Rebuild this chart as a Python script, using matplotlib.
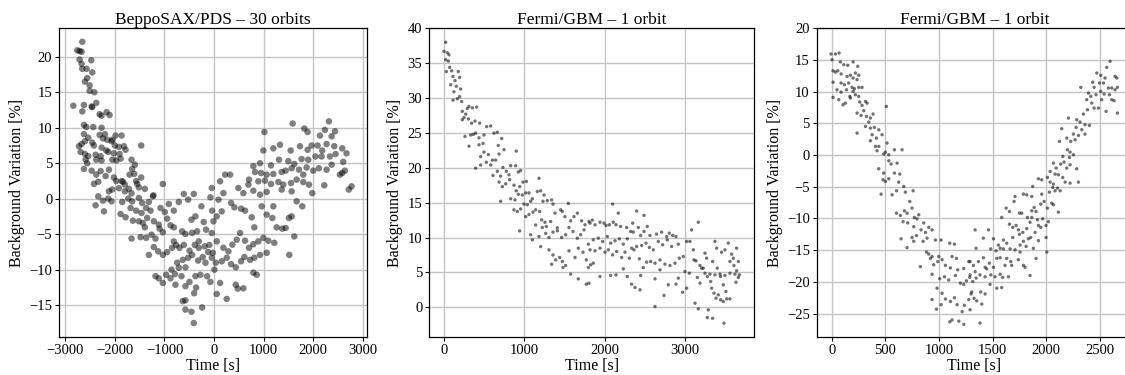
import numpy as np
import matplotlib
matplotlib.use("Agg")
import matplotlib.pyplot as plt

plt.rcParams['font.family'] = ['Liberation Serif', 'DejaVu Serif']
plt.rcParams['axes.unicode_minus'] = True

titles = ["BeppoSAX/PDS \u2013 30 orbits", "Fermi/GBM \u2013 1 orbit", "Fermi/GBM \u2013 1 orbit"]
xlabel = "Time [s]"
ylabel = "Background Variation [%]"

# (time [s], background variation [%])
sax_points = [
(-2657,22.1),(-2758,20.9),(-2711,20.8),(-2671,20.7),(-2711,19.6),(-2476,19.5),(-2671,19.0),
(-2657,18.3),(-2570,18.3),(-2456,17.8),(-2557,17.0),(-2604,16.5),(-2510,15.97),(-2510,15.2),(-2416,15.0),
(-2838,13.1),(-2624,13.2),(-2469,13.0),(-2375,13.5),(-2456,12.9),(-2657,12.3),
(-2308,11.9),(-2268,11.7),(-2167,12.2),(-2107,11.8),(-2624,10.4),(-2577,10.1),(-2436,10.1),(-2268,10.0),
(-2624,9.1),(-2308,9.0),(-2201,9.1),(-1986,8.9),(-1865,8.9),(-2067,8.1),(-2053,8.3),
(-2537,8.6),(-2604,8.1),(-2456,7.9),(-2422,7.5),(-2724,7.4),(-2671,7.7),(-2241,8.5),(-2154,8.3),
(-2268,7.2),(-2174,6.8),(-1999,7.5),(-1919,7.3),(-1818,7.4),(-1785,6.9),(-1469,7.5),
(-2691,6.6),(-2604,6.3),(-2537,6.0),(-2389,6.2),(-2288,6.0),(-2134,6.6),(-2020,6.4),(-1905,6.3),(-1885,5.65),
(-2590,5.5),(-2557,5.0),(-2375,5.5),(-2268,5.4),(-2053,5.5),(-1972,5.4),(-1664,5.5),(-1597,4.8),(-1651,4.2),
(-2624,4.2),(-2469,3.96),(-2375,3.4),(-2288,3.9),(-2187,3.2),(-2120,4.1),(-2422,2.1),(-2335,2.4),
(-2020,3.0),(-1972,2.5),(-1865,2.5),(-1798,2.0),(-1704,3.4),(-1610,3.5),(-1570,2.5),(-1469,3.0),(-1550,2.1),
(-2120,1.05),(-2053,1.3),(-1919,1.5),(-1838,2.4),(-1798,1.05),(-1718,1.4),(-1664,0.77),(-1516,1.6),(-1396,1.4),
(-2335,0.35),(-2241,-0.26),(-2134,0.02),(-2067,-0.36),(-1852,-0.45),(-1731,0.02),(-1651,-0.36),(-1516,0.11),
(-1449,-0.59),(-1315,-0.45),(-1234,0.35),(-1221,0.49),(-2389,-0.92),(-2221,-1.77),
(-1885,-2.14),(-1785,-2.6),(-1684,-1.3),(-1570,-1.67),(-1463,-2.0),(-1369,-1.3),(-1281,-1.67),(-1080,-1.3),(-1033,2.08),
(-1637,-3.08),(-1516,-3.17),(-1436,-3.41),(-1396,-4.02),(-1349,-2.7),(-1214,-3.17),(-1114,-3.64),(-993,-1.86),(-946,-2.8),
(-912,-0.73),(-812,-1.67),(-879,-3.74),(-812,-4.02),(-711,-0.45),(-610,0.68),(-523,-0.12),(-409,0.68),
(-1664,-5.6),(-1483,-5.4),(-1369,-5.5),(-1261,-5.05),(-1181,-5.6),(-1100,-4.2),(-1033,-4.7),
(-1315,-7.9),(-1214,-6.8),(-1127,-7.4),(-1033,-7.9),(-946,-7.5),(-845,-6.9),(-765,-6.5),(-812,-6.0),
(-644,-4.58),(-577,-4.96),(-443,-4.8),(-342,-4.58),(-255,-1.06),(-376,-2.47),(-456,-2.94),(-308,-5.99),(-208,-3.27),
(-161,-4.35),(-74,0.2),(-40,-1.67),
(-1181,-10.9),(-1114,-11.2),(-1033,-11.85),(-966,-10.7),(-879,-11.2),(-791,-10.6),(-711,-9.7),(-657,-10.9),(-577,-9.65),
(-778,-12.1),(-577,-12.3),(-496,-11.7),(-402,-13.3),(-362,-12.5),(-376,-10.9),(-275,-10.7),(-174,-9.0),(-74,-11.7),
(-859,-9.98),(-744,-9.0),(-631,-8.6),(-523,-8.3),(-443,-7.9),(-322,-8.7),(-228,-8.2),(-120,-7.5),(-26,-7.6),(-141,-10.9),
(-631,-14.4),(-577,-14.3),(-577,-15.6),(-456,-15.9),(-409,-17.5),(-241,-15.3),
(-698,-6.9),(-610,-6.5),(-496,-7.3),(-389,-6.5),(-308,-6.9),(-188,-6.7),(-94,-6.5),
(1584,10.6),(1819,9.9),(1886,9.4),(2316,10.9),(2235,9.7),(2437,9.5),(2370,8.8),
(1014,9.4),(994,6.8),(1195,7.1),(1329,7.6),(1544,6.8),(1732,7.4),(1886,6.9),(1967,7.5),(2088,7.5),(2135,8.9),
(2181,6.8),(2269,7.7),(2423,7.4),(2584,7.1),(2671,6.4),
(792,4.6),(927,5.0),(1148,4.7),(1309,5.5),(1497,5.3),(1618,4.9),(1765,5.6),(1899,5.5),(2047,5.96),(2168,5.96),
(2336,5.96),(2450,6.3),(2604,5.2),
(826,3.77),(947,3.63),(1061,3.4),(1195,3.49),(1363,3.77),(1443,3.96),(1564,4.3),(1712,4.1),(1799,3.4),(1866,4.4),
(2000,3.96),(2114,4.3),(2269,4.1),(2370,4.8),(2537,3.4),(2584,3.63),(2638,3.96),
(705,2.7),(893,2.46),(1027,2.55),(1148,2.08),(1296,2.36),(1396,1.99),(1551,2.22),(1665,2.7),(1799,2.36),(1913,1.99),
(1980,0.8),(2222,1.9),(2718,1.3),(2772,1.75),
(490,1.52),(591,0.8),(692,1.99),(792,1.14),(927,0.58),(1061,0.96),(1195,-1.06),(1363,1.29),(1564,1.05),(1665,-0.36),(1779,-1.06),
(343,-0.59),(410,-1.2),(544,-1.39),(625,-1.67),(759,-2.61),(812,-4.02),(960,-1.06),(1061,-2.23),(1175,-2.7),(1262,-4.02),
(1376,-4.2),(1443,-4.11),(1510,-2.7),(1564,-2.47),(1618,-5.3),(1517,-7.9),
(-46,1.52),(121,2.46),(222,3.4),(323,3.4),(188,0.8),(88,-0.12),(155,-1.77),(-13,-3.17),(54,-2.47),
(-46,-4.82),(54,-5.99),(188,-6.9),(289,-7.4),(370,-6.46),(457,-5.76),(524,-4.82),(625,-5.9),(705,-6.9),(792,-6.4),
(893,-5.99),(994,-5.5),(1094,-5.9),(1215,-6.2),
(-46,-8.3),(34,-9.0),(155,-8.8),(255,-8.3),(343,-9.2),(437,-9.65),(544,-8.8),(611,-8.2),(725,-8.6),(812,-8.3),(927,-7.9),(1061,-7.6),
(7,-9.98),(121,-11.85),(54,-13.4),(255,-14.1),(437,-12.1),(477,-12.65),(591,-12.6),(792,-10.4),(859,-10.7),
]

gbm_a_points = [
(21,38.0),(0,36.7),(42,36.5),(62,36.2),(21,35.5),(54,35.3),
(29,33.8),(71,34.4),(96,33.9),(112,33.1),(137,32.5),(178,33.8),(195,32.96),(83,31.9),(153,31.7),(207,31.3),(124,30.9),
(112,29.7),(166,29.9),(195,30.2),(220,29.5),
(228,28.1),(270,27.7),(290,28.5),(311,28.8),(353,28.6),(407,28.7),(249,27.2),(303,27.0),(344,26.4),(386,26.7),(444,26.4),(228,26.9),
(261,24.5),(332,24.7),(365,24.8),(394,24.97),(436,24.3),(498,24.7),(531,25.9),(581,26.0),(622,24.97),(664,25.1),(718,24.2),
(311,23.1),(436,23.3),(486,23.5),
(394,19.95),(456,21.6),(498,22.25),(552,21.9),(602,21.1),(643,21.1),(685,21.97),(676,23.2),(747,22.6),(900,22.4),
(456,20.4),(527,20.8),(581,20.4),
(610,18.9),(664,19.5),(705,18.8),(734,20.05),(776,19.5),(809,19.0),(830,20.3),(892,20.3),(925,19.4),(954,19.6),
(685,17.95),(726,17.3),(768,17.7),(817,18.3),(871,17.5),(900,16.7),(942,17.3),(983,17.95),(1025,18.04),(705,15.2),
(830,15.56),(884,15.4),(925,16.2),(975,16.1),(1017,16.4),(1058,16.4),(1100,15.56),(1183,18.5),
(871,13.98),(913,13.74),(954,14.1),(996,14.8),(1037,14.7),(1079,15.2),(1162,16.6),(1203,16.7),(942,10.96),
(1017,13.0),(1058,13.3),(1108,13.64),(1141,13.98),(1191,13.74),(1232,15.2),(1286,15.3),(1340,15.4),(1357,14.8),(1245,16.1),
(1079,10.4),(1100,9.67),(1141,11.8),(1183,10.15),(1216,12.54),(1257,12.2),(1274,11.59),(1328,12.3),(1382,13.5),(1411,11.4),
(1452,13.98),(1473,13.74),(1506,13.0),(1548,14.9),(1577,12.4),(1618,13.0),(1660,13.5),(1713,12.4),(1755,11.83),(1805,12.3),(1846,12.5),
(1224,11.44),(1266,10.6),(1307,10.01),(1357,10.78),(1411,10.97),(1465,10.01),(1515,10.4),(1556,11.44),(1606,10.87),(1660,9.91),
(1701,10.4),(1743,11.1),(1797,9.05),
(1203,8.7),(1307,8.24),(1357,7.5),(1390,6.8),(1440,7.14),(1473,6.57),(1515,5.99),(1556,8.1),(1631,7.14),(1672,8.48),
(1730,7.9),(1772,6.8),(1797,5.7),(1826,6.09),(1340,6.18),(1481,5.7),(1577,4.75),(1672,4.08),(1772,3.32),(1805,3.46),
(2100,14.8),(2170,13.5),(2398,13.8),(2490,13.17),
(1818,12.07),(1880,11.83),(1942,12.2),(1992,12.07),(2017,11.73),(2058,11.83),(2108,12.2),(2141,11.83),(2199,11.59),(2274,11.44),
(2324,10.87),(2357,10.78),(2349,12.07),(2419,11.44),(2448,10.3),(2490,10.87),(2531,11.59),(2564,10.3),(2647,10.49),(2710,10.78),
(2772,10.15),(2805,10.63),(2847,10.3),(2888,10.15),
(1859,9.67),(1921,9.91),(1975,9.44),(2033,10.15),(2075,9.2),(2129,9.53),(2183,9.82),(2232,9.05),(2282,9.82),(2336,8.48),
(2398,8.72),(2461,8.86),(2515,9.2),(2556,8.58),(2606,8.24),(2668,9.44),(2722,8.96),(2780,9.67),(2834,8.72),(2917,9.05),
(1818,8.24),(1880,8.1),(1942,8.48),(2004,7.9),(2046,8.24),(2100,7.52),(2150,8.0),(2212,7.14),(2253,7.9),(2307,7.04),
(2365,8.24),(2432,6.95),(2481,5.7),(2523,6.47),(2573,6.57),(2627,6.33),(2689,6.8),(2751,6.18),(2813,5.99),(2876,6.33),
(2929,7.04),(2979,7.28),(3021,9.44),(3062,9.44),(3083,11.1),(3166,12.2),(3104,8.24),
(1859,6.33),(1942,4.41),(2075,4.56),(2141,4.65),(2232,5.51),(2282,4.41),(2336,3.32),(2378,2.84),(2440,2.5),(2448,4.56),
(2627,4.08),(2689,5.37),(2739,1.69),(2792,3.22),(2888,3.32),(2917,4.18),(2971,2.16),(3000,5.13),
(2627,0.11),(3021,2.74),(3054,4.89),(3112,6.8),(3137,6.66),(3187,5.99),(3249,7.76),(3228,5.61),(3154,4.27),(3187,3.46),
(3278,4.41),(3320,3.7),(3332,2.74),(3361,2.02),(3386,1.31),(3415,1.78),(3444,1.07),(3477,0.83),(3519,1.21),(3560,1.21),
(3125,0.59),(3166,-0.22),(3290,-0.37),(3278,-1.47),(3344,-1.57),(3485,-2.28),
(3249,4.89),(3311,4.75),(3373,4.65),(3436,4.75),(3498,4.56),(3560,4.89),(3622,4.75),(3677,4.65),
(3373,9.44),(3394,8.48),(3456,7.9),(3498,8.24),(3539,9.2),(3581,7.62),(3602,7.04),(3643,8.48),(3664,6.57),(3560,6.57),
(3610,5.99),(3643,5.23),(3635,3.6),(3664,4.27),(3444,4.41),(3477,3.22),(3510,2.26),
(3344,6.57),(3402,5.61),(3270,7.04),(3208,5.61),
]

gbm_b_points = [
(-7,15.95),(34,15.95),(68,16.1),(3,15.05),(80,14.7),(112,14.26),(149,14.16),(199,14.7),(242,14.0),
(12,13.3),(34,13.1),(56,13.3),(87,12.8),(143,12.4),(174,12.6),(220,12.95),(199,12.16),(236,11.9),(251,12.6),
(12,11.5),(87,11.37),(118,11.1),(158,11.37),(189,10.68),(211,10.47),(251,10.68),(282,10.68),
(49,10.3),(87,9.94),(137,10.3),(168,9.26),(199,10.05),(220,9.52),(251,9.26),(314,8.47),(329,8.2),(282,7.84),(261,8.37),
(12,9.1),(65,8.74),(105,7.94),(127,8.2),(174,9.0),(236,6.63),(273,6.26),(298,7.0),(323,6.1),(360,5.84),(385,6.47),(345,5.21),
(314,4.52),(360,4.26),(397,4.37),(438,3.99),(376,3.21),(236,3.47),(360,2.26),(416,2.68),(469,3.21),
(407,1.37),(438,1.37),(422,0.68),(484,0.16),(500,0.47),(531,0.05),(515,1.9),(584,0.84),(655,0.84),(509,7.68),
(438,-2.16),(484,-2.84),(531,-0.9),(553,-1.42),(584,-2.84),(609,-1.27),(634,-3.0),(478,-3.9),(500,-4.16),(531,-3.74),
(562,-6.27),(603,-5.63),(624,-4.26),(671,-4.95),(686,-5.84),(758,-5.63),(460,-6.16),
(603,-9.16),(640,-9.53),(677,-8.79),(702,-9.16),(727,-7.32),(748,-8.37),(770,-9.84),(795,-10.06),(811,-9.42),(665,-10.5),
(708,-10.7),(764,-11.3),
(857,-10.7),(832,-11.8),(873,-12.2),(904,-11.4),(935,-11.8),(888,-13.1),(851,-13.6),(789,-12.7),(748,-13.0),(764,-13.6),
(646,-13.2),(702,-14.6),
(966,-13.4),(1019,-13.4),(882,-15.3),(904,-15.6),(935,-16.0),(997,-16.0),(826,-17.6),(988,-16.8),(950,-17.3),(919,-16.3),(1028,-16.5),
(1100,-13.9),(1143,-14.05),(1121,-16.0),(1162,-16.3),(1050,-19.2),(1090,-19.7),(1152,-19.0),(1199,-20.2),(1230,-20.4),(1255,-19.84),
(1277,-16.8),(1286,-19.3),(1106,-17.8),(1059,-17.4),(1174,-18.1),(1230,-17.9),
(935,-18.8),(1006,-19.5),(981,-21.0),(1028,-21.8),(935,-22.8),(975,-24.3),(1019,-23.6),(1059,-22.7),(1106,-23.1),(1143,-22.5),
(1168,-23.6),(1215,-24.7),(1236,-23.7),(1277,-22.8),(1298,-21.9),(1100,-26.3),(1121,-26.0),(1184,-26.2),(1230,-26.7),
(2594,14.79),(2563,13.84),(2470,12.95),(2507,12.58),(2547,12.16),(2640,12.42),(2656,12.16),(2432,11.5),(2494,11.37),(2532,11.37),
(2578,10.58),(2609,10.58),(2640,10.31),(2662,10.68),(2321,10.68),(2445,10.68),
(2392,9.79),(2414,9.26),(2463,9.52),(2507,10.05),(2538,9.63),(2588,9.52),(2609,8.74),(2631,8.58),(2662,6.63),(2557,6.89),
(2516,8.74),(2423,8.21),(2376,8.74),(2445,7.42),(2485,7.42),(2383,7.15),(2345,6.47),
(2206,5.84),(2283,5.58),(2314,5.21),(2360,4.79),(2401,4.68),(2277,4.37),(2330,4.0),(2252,3.31),(2299,3.1),(2360,3.31),
(2190,2.68),(2227,2.16),(2268,2.42),(2143,4.16),(2122,2.16),
(2196,0.84),(2221,0.47),(2215,-0.37),(2252,0.05),(2153,-0.21),(2134,-1.42),(2165,-1.1),(2221,-1.53),(2283,-2.16),(2190,-2.05),
(2066,-1.27),(2091,-2.05),(2035,-2.58),(2081,-3.0),(2112,-3.1),(2153,-3.53),(2221,-4.42),(2299,-4.26),(2175,-4.26),
(1926,-3.74),(1957,-3.9),(2010,-3.53),(2035,-4.26),(2066,-4.58),(2103,-5.21),(2128,-5.63),(2060,-5.1),(2081,-5.63),(2028,-5.84),
(1873,-4.95),(1786,-6.16),(1817,-6.27),(1864,-6.53),(1957,-6.16),(1979,-7.32),(2010,-8.37),(2050,-7.58),(2066,-7.84),(2112,-9.0),
(1948,-7.74),(1886,-8.26),(1904,-8.9),(1864,-8.79),
(1625,-8.37),(1656,-8.9),(1699,-7.32),(1708,-6.53),(1749,-9.16),(1771,-9.16),(1823,-9.84),(1864,-9.84),(1917,-10.2),(1966,-10.05),
(1997,-11.1),(2019,-10.5),(1926,-11.1),(1948,-11.4),(1848,-10.6),(1895,-12.2),
(1584,-9.84),(1656,-10.9),(1687,-11.4),(1718,-11.1),(1739,-11.8),(1780,-12.2),(1817,-11.6),(1854,-13.0),(1833,-13.2),(1786,-13.6),
(1811,-14.4),(1926,-13.5),(1997,-13.0),(2004,-15.3),(1879,-14.7),
(1507,-13.2),(1553,-14.2),(1600,-13.4),(1631,-13.9),(1662,-14.8),(1708,-14.95),(1755,-14.2),(1687,-13.0),(1749,-12.5),(1482,-14.8),
(1531,-15.1),(1569,-14.7),(1600,-14.8),
(1289,-16.8),(1320,-17.4),(1367,-16.8),(1413,-16.2),(1429,-17.7),(1469,-17.05),(1507,-17.7),(1538,-16.3),(1569,-16.2),(1615,-17.4),
(1631,-16.3),(1668,-16.8),(1677,-17.4),(1739,-16.5),(1786,-17.4),(1802,-17.7),(1848,-19.0),(1755,-15.3),(1904,-16.3),
(1289,-18.9),(1336,-18.4),(1382,-18.9),(1429,-19.2),(1482,-18.9),(1522,-19.2),(1569,-18.8),(1593,-19.3),(1646,-19.2),(1538,-21.0),
(1584,-20.9),(1475,-20.4),(1388,-21.6),(1429,-21.9),(1326,-22.6),(1351,-23.0),(1398,-23.5),(1289,-24.4),(1382,-26.5),
(1314,-19.95),(1345,-19.4),(1305,-21.6),(1444,-17.95),
(1336,-11.8),(1413,-13.1),(1460,-11.8),(1345,-14.7),
]

series = [np.array(sax_points), np.array(gbm_a_points), np.array(gbm_b_points)]
xticks = [[-3000, -2000, -1000, 0, 1000, 2000, 3000], [0, 1000, 2000, 3000], [0, 500, 1000, 1500, 2000, 2500]]
yticks = [[-15, -10, -5, 0, 5, 10, 15, 20], [0, 5, 10, 15, 20, 25, 30, 35, 40], [-25, -20, -15, -10, -5, 0, 5, 10, 15, 20]]
xlims = [(-3121, 3074), (-183, 3859), (-140, 2800)]
ylims = [(-19.46, 24.0), (-4.26, 40.0), (-28.7, 20.0)]
sizes = [22, 6, 6]
alphas = [0.5, 0.55, 0.55]

fig = plt.figure(figsize=(11.25, 3.75), dpi=100)
rects = [(0.0527, 0.1013, 0.2731, 0.8232),
         (0.3816, 0.1013, 0.2886, 0.8232),
         (0.7260, 0.1013, 0.2804, 0.8232)]

for i in range(3):
    ax = fig.add_axes(rects[i])
    d = series[i]
    ax.set_axisbelow(True)
    ax.grid(True, color='#c4c4c4', linewidth=1.0)
    ax.scatter(d[:, 0], d[:, 1], s=sizes[i], c='black', alpha=alphas[i], edgecolors='none', zorder=3)
    ax.set_xticks(xticks[i])
    ax.set_yticks(yticks[i])
    ax.set_xlim(*xlims[i])
    ax.set_ylim(*ylims[i])
    ax.set_title(titles[i], fontsize=12.5, pad=3)
    ax.set_xlabel(xlabel, fontsize=11.5, labelpad=1)
    ax.set_ylabel(ylabel, fontsize=11.5, labelpad=3)
    ax.tick_params(labelsize=10.5, length=3, width=0.8, pad=2)
    for sp in ax.spines.values():
        sp.set_linewidth(0.9)

fig.savefig("out.png", dpi=100)
